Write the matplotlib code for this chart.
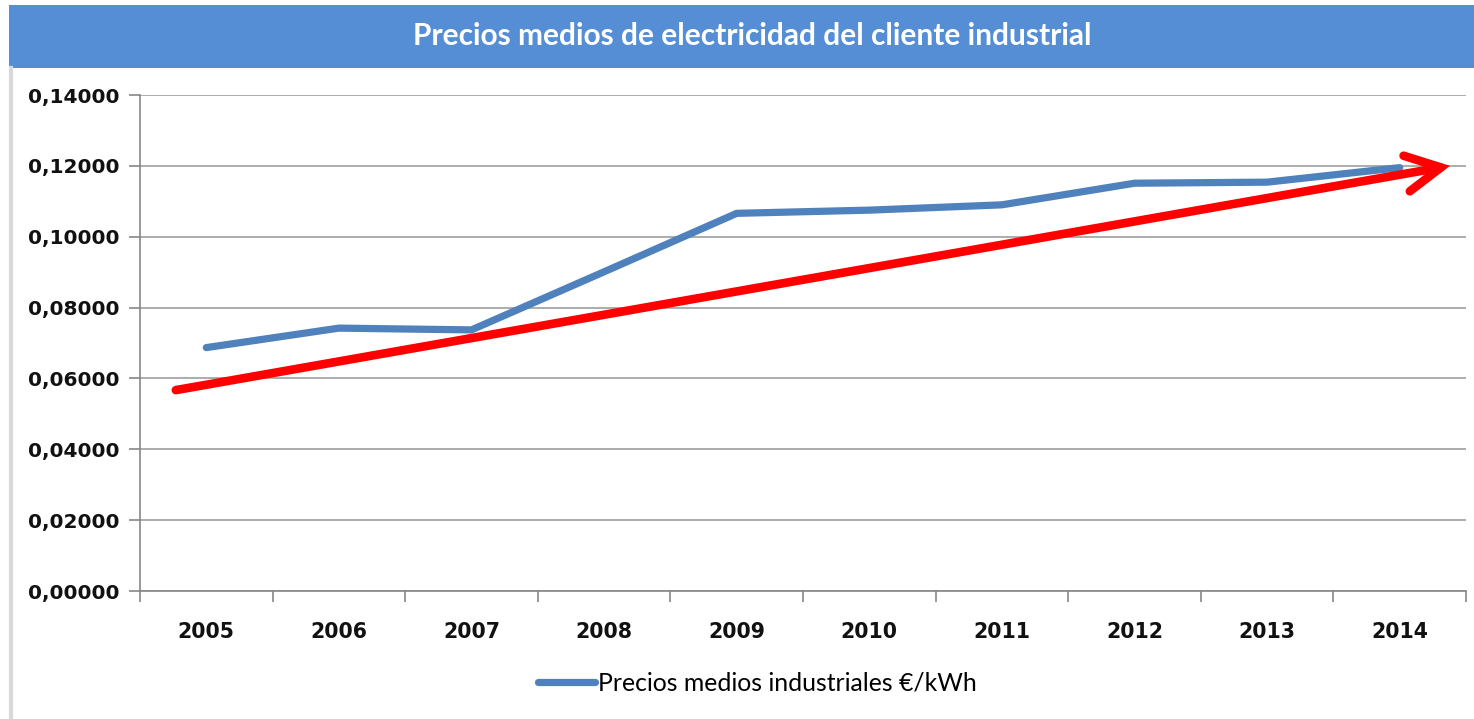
import matplotlib
matplotlib.use("Agg")
import matplotlib.pyplot as plt
from matplotlib.patches import Rectangle
from matplotlib.lines import Line2D
from matplotlib.ticker import FuncFormatter, FixedLocator

# ---- data ----
years = ["2005", "2006", "2007", "2008", "2009", "2010", "2011", "2012", "2013", "2014"]
prices = [0.0687, 0.0742, 0.0737, 0.0901, 0.1066, 0.1075, 0.1090, 0.1151, 0.1154, 0.1195]
series_label = "Precios medios industriales €/kWh"
title = "Precios medios de electricidad del cliente industrial"
y_ticks = [0.0, 0.02, 0.04, 0.06, 0.08, 0.10, 0.12, 0.14]
# trend arrow (category index, value)
trend_start = (-0.23, 0.0567)
trend_end = (9.38, 0.1200)

W, H = 1474, 719
fig = plt.figure(figsize=(W / 100, H / 100), dpi=100)
fig.patch.set_facecolor("white")

# title bar
fig.patches.append(Rectangle((9 / W, 1 - 68 / H), 1 - 9 / W, 63 / H,
                             transform=fig.transFigure, facecolor="#558ED5",
                             edgecolor="none", zorder=0))
fig.text(752 / W, 1 - 36 / H, title, color="white", fontsize=21.5,
         fontfamily="Lato", fontweight="bold", ha="center", va="center")
# left grey strip
fig.lines.append(Line2D([11 / W, 11 / W], [0, 1 - 68 / H], transform=fig.transFigure,
                        color="#D9D9D9", lw=3))

ax = fig.add_axes([140 / W, 1 - 591 / H, (1466 - 140) / W, (591 - 95) / H])
x = list(range(len(years)))
ax.plot(x, prices, color="#4F81BD", lw=5.2, solid_capstyle="round",
        solid_joinstyle="round", label=series_label, zorder=3)

ax.annotate("", xy=trend_end, xytext=trend_start,
            arrowprops=dict(arrowstyle="->,head_length=1.25,head_width=0.65",
                            color="#FF0000", lw=6.2, mutation_scale=20,
                            shrinkA=0, shrinkB=0, capstyle="round",
                            joinstyle="miter"),
            zorder=4)

ax.set_xlim(-0.5, len(years) - 0.5)
ax.set_ylim(0, 0.14)
ax.set_yticks(y_ticks)
ax.yaxis.set_major_formatter(FuncFormatter(lambda v, p: f"{v:.5f}".replace(".", ",")))
ax.set_xticks(x)
ax.set_xticklabels(years)
ax.xaxis.set_minor_locator(FixedLocator([i + 0.5 for i in range(-1, len(years))]))
ax.tick_params(axis="x", which="major", length=0, pad=22, labelsize=14.8)
ax.tick_params(axis="x", which="minor", length=8, color="#868686", width=1.2)
ax.tick_params(axis="y", length=8, color="#868686", width=1.2, pad=7, labelsize=14.5)
for lab in ax.get_xticklabels() + ax.get_yticklabels():
    lab.set_fontweight("bold")
    lab.set_fontfamily("DejaVu Sans")
    lab.set_color("#111111")

ax.grid(axis="y", color="#A6A6A6", lw=1.3)
ax.set_axisbelow(True)
for s in ["top", "right"]:
    ax.spines[s].set_visible(False)
for s in ["left", "bottom"]:
    ax.spines[s].set_color("#868686")
    ax.spines[s].set_linewidth(1.2)

leg = fig.legend(loc="center", bbox_to_anchor=(757 / W, 1 - 683 / H), frameon=False,
                 prop={"family": "Lato", "size": 17.8}, handlelength=2.3,
                 handletextpad=0.12)

fig.savefig("out.png", dpi=100)
